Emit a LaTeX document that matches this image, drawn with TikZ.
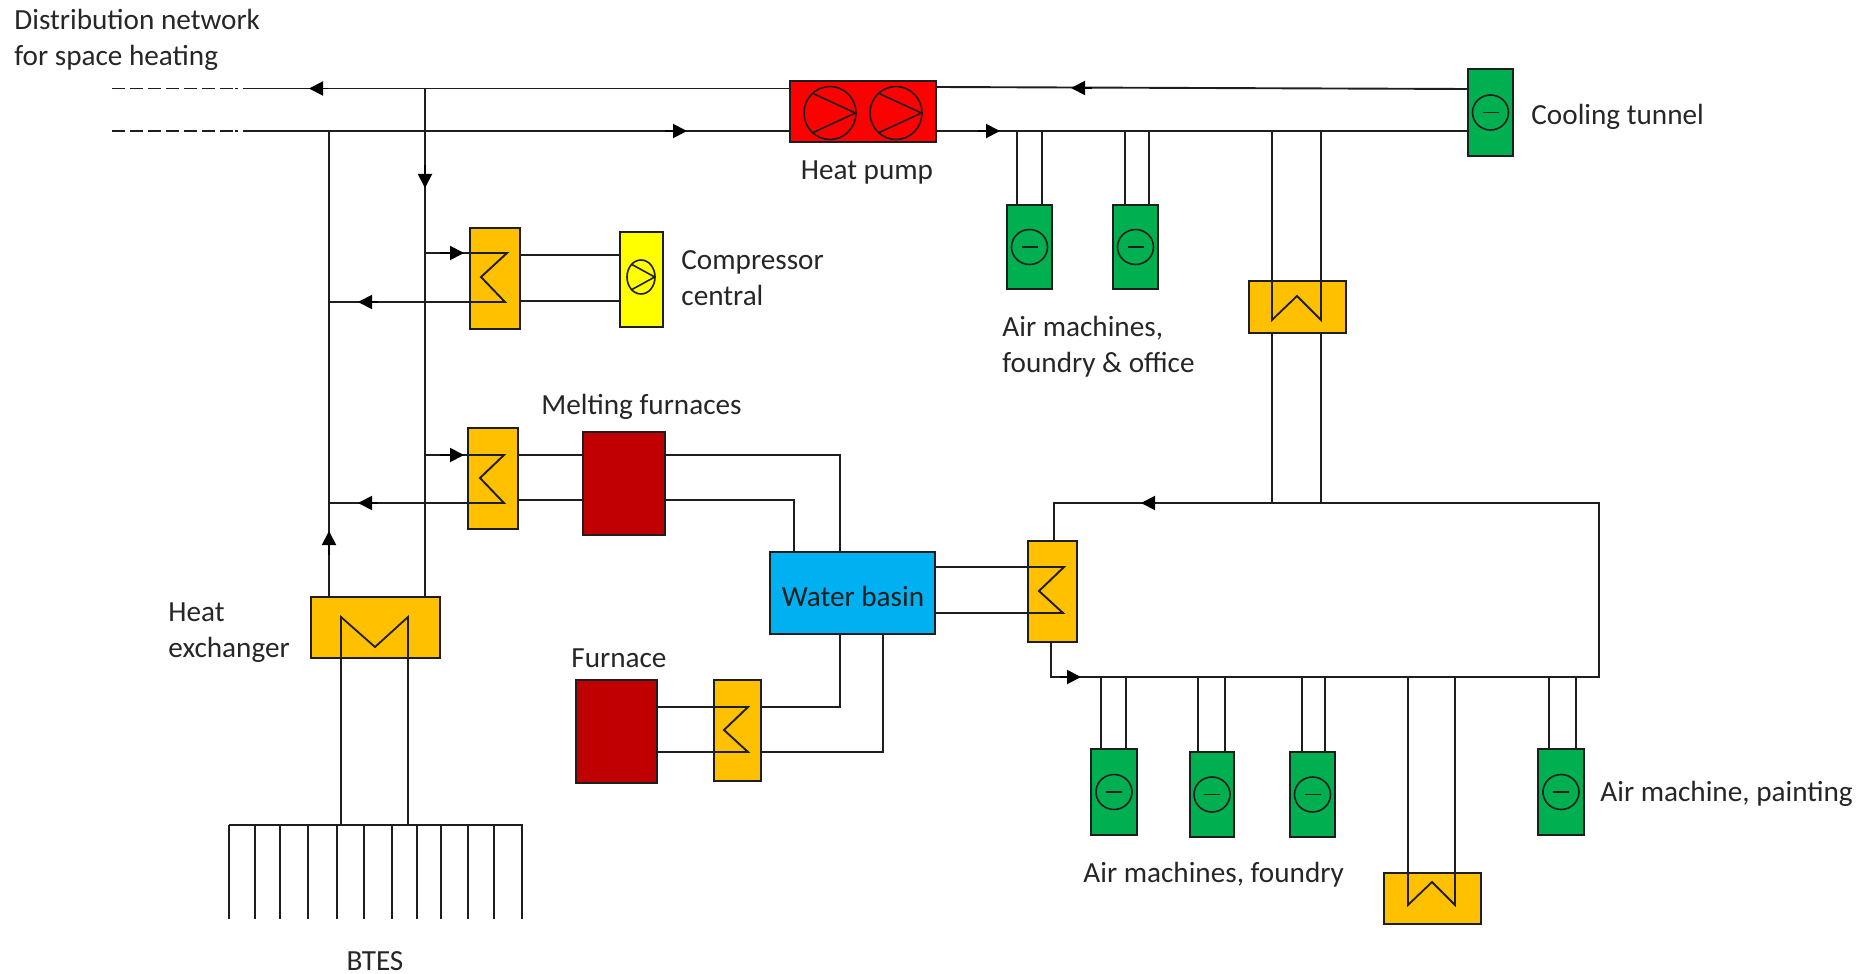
\documentclass[tikz,border=0pt]{standalone}
\usepackage{fontspec}
\setmainfont{Carlito}
\usetikzlibrary{arrows.meta}
\definecolor{hxorange}{HTML}{FFC000}
\definecolor{pumpred}{HTML}{FF0000}
\definecolor{furnred}{HTML}{C00000}
\definecolor{fangreen}{HTML}{00B050}
\definecolor{basinblue}{HTML}{00B0F0}
\definecolor{compyellow}{HTML}{FFFF00}
\definecolor{ink}{HTML}{1E1E1E}
\definecolor{txt}{HTML}{262626}
\tikzset{
  blockbase/.style={draw=ink,line width=1pt,rectangle,inner sep=0pt},
  hxbox/.style={fill=hxorange},
  fanbox/.style={fill=fangreen},
  furnbox/.style={fill=furnred},
  pumpbox/.style={fill=pumpred},
  compbox/.style={fill=compyellow},
  basinbox/.style={fill=basinblue},
  pipe/.style={draw=ink,line width=0.95pt,line join=miter},
  thin pipe/.style={draw=ink,line width=0.9pt},
  sym/.style={draw=ink,line width=0.8pt},
  dashpipe/.style={pipe,dash pattern=on 6.5pt off 2.5pt on 6.5pt off 2.5pt on 6.5pt off 2.5pt on 6.5pt off 2.5pt on 6.5pt off 2.5pt on 6.5pt off 2.5pt on 6.5pt off 1.2pt on 1.3pt off 3pt},
  arrowpipe/.style={draw=black,line width=0.95pt,-{Triangle[length=7pt,width=7pt]}},
  lab/.style={font=\fontsize{14.6}{18}\selectfont,text=txt,inner sep=0pt,align=left,anchor=west},
  clab/.style={lab,anchor=center,align=center}
}
\newcommand{\blk}[6]{%
  \pgfmathsetmacro\bcx{(#3+#5)/2}%
  \pgfmathsetmacro\bcy{(#4+#6)/2}%
  \pgfmathsetmacro\bw{(#5-#3)*0.5}%
  \pgfmathsetmacro\bh{(#6-#4)*0.5}%
  \node[blockbase,#2,minimum width=\bw pt,minimum height=\bh pt] (#1) at (\bcx,\bcy) {};}
\newcommand{\fansym}[1]{%
  \draw[sym] (#1.center) ellipse [x radius=18,y radius=17.5];
  \draw[sym] (#1.center) ++(-8,0) -- ++(16,0);}
\newcommand{\pumpsym}[4]{% x y rx ry
  \draw[sym] (#1,#2) ellipse [x radius=#3,y radius=#4];
  \draw[sym] (#1,#2) ++(-0.62*#3,-0.72*#4) -- ++(1.6*#3,0.72*#4) -- ++(-1.68*#3,0.76*#4);}
\begin{document}
\begin{tikzpicture}[x=0.5pt,y=-0.5pt]
\useasboundingbox (0,0) rectangle (1870,974);

% blocks
\blk{hp}{pumpbox}{790}{81}{936}{142}
\blk{cool}{fanbox}{1468}{69}{1513}{156}
\blk{airA}{fanbox}{1007}{205}{1052}{289}
\blk{airB}{fanbox}{1113}{205}{1158}{289}
\blk{hxTop}{hxbox}{1249}{281}{1346}{333}
\blk{hxC}{hxbox}{470}{228}{520}{329}
\blk{comp}{compbox}{620}{232}{663}{327}
\blk{hxM}{hxbox}{468}{428}{518}{529}
\blk{melt}{furnbox}{583}{432}{665}{535}
\blk{basin}{basinbox}{770}{552}{935}{634}
\blk{hxB}{hxbox}{1028}{541}{1077}{642}
\blk{furn}{furnbox}{576}{680}{657}{783}
\blk{hxF}{hxbox}{714}{680}{761}{781}
\blk{hxG}{hxbox}{311}{597}{440}{658}
\blk{fanA}{fanbox}{1091}{749}{1137}{835}
\blk{fanB}{fanbox}{1190}{752}{1234}{837}
\blk{fanC}{fanbox}{1290}{752}{1335}{837}
\blk{fanD}{fanbox}{1538}{749}{1584}{835}
\blk{hxP}{hxbox}{1384}{873}{1481}{924}

\fansym{cool}\fansym{airA}\fansym{airB}\fansym{fanA}\fansym{fanB}\fansym{fanC}\fansym{fanD}
\pumpsym{830}{113}{26}{26.5}
\pumpsym{896}{113}{26}{26.5}
\pumpsym{641}{277}{14}{17}

% free ends of the network
\coordinate (topFar) at (112,88.5);
\coordinate (topDash) at (238,88.5);
\coordinate (topNear) at (243,88.5);
\coordinate (botFar) at (112,131);
\coordinate (botDash) at (238,131);
\coordinate (botNear) at (243,131);
\coordinate (supJ) at (425,88.5);
\coordinate (retJ) at (329,131);
\coordinate (loopTL) at (1054,503);
\coordinate (loopTR) at (1599,503);
\coordinate (loopBR) at (1599,677);
\coordinate (loopBL) at (1051,677);

\draw[dashpipe] (topFar) -- (topDash);
\draw[dashpipe] (botFar) -- (botDash);
\draw[pipe] (topNear) -- (hp.west |- 0,88.5);
\draw[pipe] (botNear) -- (hp.west |- 0,131);
\draw[pipe] (hp.east |- 0,87) -- (cool.west |- 0,89);
\draw[pipe] (hp.east |- 0,131) -- (cool.west |- 0,131);
\draw[pipe] (retJ) -- (retJ |- hxG.north);
\draw[pipe] (supJ) -- (supJ |- hxG.north);

% compressor branch
\draw[pipe] (425,253) -- (507,253) -- (481,277) -- (505,302) -- (329,302);
\draw[pipe] (hxC.east |- 0,255) -- (comp.west |- 0,255);
\draw[pipe] (hxC.east |- 0,301) -- (comp.west |- 0,301);
% melting furnace branch
\draw[pipe] (425,455) -- (504,455) -- (480,478) -- (504,503) -- (329,503);
\draw[pipe] (hxM.east |- 0,455) -- (melt.west |- 0,455);
\draw[pipe] (hxM.east |- 0,500) -- (melt.west |- 0,500);
\draw[pipe] (melt.east |- 0,455) -- (840,455) -- (basin.north -| 840,0);
\draw[pipe] (melt.east |- 0,500) -- (794,500) -- (basin.north -| 794,0);
% furnace branch
\draw[pipe] (furn.east |- 0,707) -- (748,707) -- (724,730) -- (748,752) -- (furn.east |- 0,752);
\draw[pipe] (hxF.east |- 0,707) -- (840,707) -- (basin.south -| 840,0);
\draw[pipe] (hxF.east |- 0,752) -- (883,752) -- (basin.south -| 883,0);
% basin to loop
\draw[pipe] (basin.east |- 0,567) -- (1064,567) -- (1039,591) -- (1063,613) -- (basin.east |- 0,613);
\draw[pipe] (loopTL |- hxB.north) -- (loopTL) -- (loopTR) -- (loopBR) -- (loopBL) -- (loopBL |- hxB.south);

% consumers
\draw[thin pipe] (1017,131) -- (airA.north -| 1017,0);
\draw[thin pipe] (1042,131) -- (airA.north -| 1042,0);
\draw[thin pipe] (1125,131) -- (airB.north -| 1125,0);
\draw[thin pipe] (1149,131) -- (airB.north -| 1149,0);
\draw[thin pipe] (1272,131) -- (1272,320) -- (1297,296) -- (1321,320) -- (1321,131);
\draw[thin pipe] (hxTop.south -| 1272,0) -- (1272,503);
\draw[thin pipe] (hxTop.south -| 1321,0) -- (1321,503);
\draw[thin pipe] (1101,677) -- (fanA.north -| 1101,0);
\draw[thin pipe] (1126,677) -- (fanA.north -| 1126,0);
\draw[thin pipe] (1198,677) -- (fanB.north -| 1198,0);
\draw[thin pipe] (1225,677) -- (fanB.north -| 1225,0);
\draw[thin pipe] (1302,677) -- (fanC.north -| 1302,0);
\draw[thin pipe] (1325,677) -- (fanC.north -| 1325,0);
\draw[thin pipe] (1549,677) -- (fanD.north -| 1549,0);
\draw[thin pipe] (1576,677) -- (fanD.north -| 1576,0);
\draw[thin pipe] (1408,677) -- (1408,905) -- (1432,882) -- (1455,905) -- (1455,677);

% heat exchanger and BTES
\draw[thin pipe] (341,825) -- (341,617) -- (375,647) -- (408,617) -- (408,825);
\draw[thin pipe] (229,825) -- (523,825);
\foreach \tx in {229,255,280,308,337,364,392,417,441,468,494,522}{
  \draw[thin pipe] (\tx,825) -- (\tx,919);
}

% flow arrows
\draw[arrowpipe] (328,88.5) -- (309,88.5);
\draw[arrowpipe] (665,131) -- (687,131);
\draw[arrowpipe] (978,131) -- (1000,131);
\draw[arrowpipe] (1092,88) -- (1071,88);
\draw[arrowpipe] (425,165) -- (425,188);
\draw[arrowpipe] (440,253) -- (464,253);
\draw[arrowpipe] (378,302) -- (358,302);
\draw[arrowpipe] (440,455) -- (464,455);
\draw[arrowpipe] (378,503) -- (358,503);
\draw[arrowpipe] (329,555) -- (329,531);
\draw[arrowpipe] (1155,503) -- (1141,503);
\draw[arrowpipe] (1060,677) -- (1081,677);

% labels
\node[lab] (lNet) at (14,40) {Distribution network\\for space heating};
\node[lab] (lCool) at (1531,117) {Cooling tunnel};
\node[clab] (lHp) at (867,172) {Heat pump};
\node[lab] (lComp) at (681,278) {Compressor\\central};
\node[lab] (lAir) at (1002,347) {Air machines,\\foundry \& office};
\node[lab] (lMelt) at (541,407) {Melting furnaces};
\node[lab] (lHx) at (168,633) {Heat\\exchanger};
\node[clab,text=ink] (lBasin) at (853,596) {Water basin};
\node[lab] (lFurn) at (571,658) {Furnace};
\node[lab] (lFoundry) at (1083,875) {Air machines, foundry};
\node[lab] (lPaint) at (1600,794) {Air machine, painting};
\node[clab] (lBtes) at (375,961) {BTES};
\end{tikzpicture}
\end{document}
